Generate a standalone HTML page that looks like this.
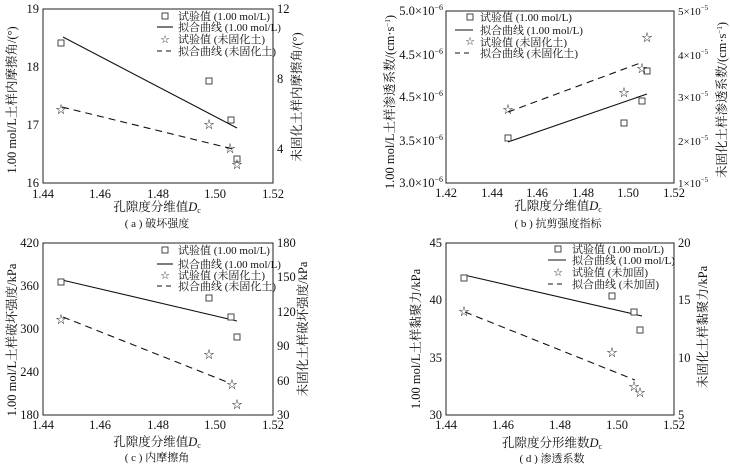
<!DOCTYPE html>
<html><head><meta charset="utf-8"><style>
html,body{margin:0;padding:0;background:#fff;}
svg{display:block;}
text{font-family:"Liberation Serif","Noto Serif CJK SC",serif;fill:#111;}
.t{font-size:12.5px;}
.s{font-size:11px;}
.l{font-size:12.5px;}
.ax{fill:none;stroke:#222;stroke-width:1;}
.sq{fill:#fff;stroke:#333;stroke-width:0.9;}
.ln{stroke:#111;stroke-width:1.1;fill:none;}
.dl{stroke:#111;stroke-width:1.1;fill:none;stroke-dasharray:7,5;}
.st{font-size:11px;font-family:"DejaVu Sans",sans-serif;}
</style></head><body>
<svg width="730" height="464" viewBox="0 0 730 464" xmlns="http://www.w3.org/2000/svg">
<!-- Panel a -->
<rect class="ax" x="43" y="9" width="230" height="174"/>
<g class="t" text-anchor="middle">
<text x="43" y="198">1.44</text><text x="100" y="198">1.46</text><text x="158" y="198">1.48</text><text x="215" y="198">1.50</text><text x="273" y="198">1.52</text>
</g>
<g class="t" text-anchor="end"><text x="39" y="13">19</text><text x="39" y="71">18</text><text x="39" y="129">17</text><text x="39" y="187">16</text></g>
<g class="t"><text x="277" y="13">12</text><text x="277" y="83">8</text><text x="277" y="153">4</text></g>
<line class="ln" x1="63" y1="37" x2="237" y2="128"/>
<line class="dl" x1="62" y1="107" x2="233" y2="149"/>
<rect class="sq" x="58" y="40" width="6" height="6"/><rect class="sq" x="206" y="78" width="6" height="6"/><rect class="sq" x="228" y="117" width="6" height="6"/><rect class="sq" x="234" y="156" width="6" height="6"/>
<g class="st" text-anchor="middle"><text x="61" y="113">☆</text><text x="209" y="128">☆</text><text x="230" y="152">☆</text><text x="237" y="168">☆</text></g>
<rect class="sq" x="162" y="13" width="6" height="6"/><line class="ln" x1="157" y1="27" x2="173" y2="27"/>
<text class="st" x="165" y="43" text-anchor="middle">☆</text><line class="dl" x1="157" y1="51" x2="173" y2="51" style="stroke-dasharray:5,4"/>
<g class="s"><text x="178" y="20">试验值 (1.00 mol/L)</text><text x="178" y="31">拟合曲线 (1.00 mol/L)</text><text x="178" y="43">试验值 (未固化土)</text><text x="178" y="55">拟合曲线 (未固化土)</text></g>
<text class="l" transform="translate(16,100) rotate(-90)" text-anchor="middle">1.00 mol/L土样内摩擦角/(°)</text>
<text class="l" transform="translate(301,97) rotate(-90)" text-anchor="middle">未固化土样内摩擦角/(°)</text>
<text class="l" x="157" y="211" text-anchor="middle">孔隙度分维值<tspan font-style="italic">D</tspan><tspan font-size="8" dy="2">c</tspan></text>
<text class="s" x="157" y="227" text-anchor="middle">( a ) 破坏强度</text>

<!-- Panel b -->
<rect class="ax" x="446" y="11" width="228" height="172"/>
<g class="t" text-anchor="middle">
<text x="446" y="197">1.42</text><text x="492" y="197">1.44</text><text x="537" y="197">1.46</text><text x="583" y="197">1.48</text><text x="628" y="197">1.50</text><text x="674" y="197">1.52</text>
</g>
<g class="t" text-anchor="end"><text x="443" y="15">5.0×10<tspan font-size="8" dy="-5">−6</tspan></text><text x="443" y="59">4.5×10<tspan font-size="8" dy="-5">−6</tspan></text><text x="443" y="101">4.5×10<tspan font-size="8" dy="-5">−6</tspan></text><text x="443" y="145">3.5×10<tspan font-size="8" dy="-5">−6</tspan></text><text x="443" y="187">3.0×10<tspan font-size="8" dy="-5">−6</tspan></text></g>
<g class="s"><text x="678" y="15">5×10<tspan font-size="7" dy="-5">−5</tspan></text><text x="678" y="59">4×10<tspan font-size="7" dy="-5">−5</tspan></text><text x="678" y="101">3×10<tspan font-size="7" dy="-5">−5</tspan></text><text x="678" y="145">2×10<tspan font-size="7" dy="-5">−5</tspan></text><text x="678" y="187">1×10<tspan font-size="7" dy="-5">−5</tspan></text></g>
<line class="ln" x1="508" y1="142" x2="647" y2="94"/>
<line class="dl" x1="508" y1="112" x2="643" y2="62"/>
<rect class="sq" x="505" y="135" width="6" height="6"/><rect class="sq" x="621" y="120" width="6" height="6"/><rect class="sq" x="639" y="98" width="6" height="6"/><rect class="sq" x="644" y="68" width="6" height="6"/>
<g class="st" text-anchor="middle"><text x="508" y="113">☆</text><text x="624" y="96">☆</text><text x="642" y="72">☆</text><text x="647" y="41">☆</text></g>
<rect class="sq" x="467" y="14" width="6" height="6"/><line class="ln" x1="455" y1="30" x2="473" y2="30"/>
<text class="st" x="470" y="45" text-anchor="middle">☆</text><line class="dl" x1="455" y1="53" x2="473" y2="53" style="stroke-dasharray:5,4"/>
<g class="s"><text x="480" y="21">试验值 (1.00 mol/L)</text><text x="480" y="34">拟合曲线 (1.00 mol/L)</text><text x="480" y="46">试验值 (未固化土)</text><text x="480" y="57">拟合曲线 (未固化土)</text></g>
<text class="l" transform="translate(394,102) rotate(-90)" text-anchor="middle">1.00 mol/L土样渗透系数/(cm·s<tspan font-size="7" dy="-4">−1</tspan><tspan dy="4">)</tspan></text>
<text class="l" transform="translate(726,100) rotate(-90)" text-anchor="middle">未固化土样渗透系数/(cm·s<tspan font-size="7" dy="-4">−1</tspan><tspan dy="4">)</tspan></text>
<text class="l" x="558" y="210" text-anchor="middle">孔隙度分维值<tspan font-style="italic">D</tspan><tspan font-size="8" dy="2">c</tspan></text>
<text class="s" x="558" y="227" text-anchor="middle">( b ) 抗剪强度指标</text>

<!-- Panel c -->
<rect class="ax" x="43" y="243" width="230" height="172"/>
<g class="t" text-anchor="middle">
<text x="43" y="429">1.44</text><text x="100" y="429">1.46</text><text x="158" y="429">1.48</text><text x="215" y="429">1.50</text><text x="273" y="429">1.52</text>
</g>
<g class="t" text-anchor="end"><text x="39" y="247">420</text><text x="39" y="290">360</text><text x="39" y="333">300</text><text x="39" y="376">240</text><text x="39" y="419">180</text></g>
<g class="t"><text x="277" y="247">180</text><text x="277" y="281">150</text><text x="277" y="316">120</text><text x="277" y="350">90</text><text x="277" y="385">60</text><text x="277" y="419">30</text></g>
<line class="ln" x1="62" y1="280" x2="237" y2="321"/>
<line class="dl" x1="63" y1="317" x2="227" y2="382"/>
<rect class="sq" x="58" y="279" width="6" height="6"/><rect class="sq" x="206" y="295" width="6" height="6"/><rect class="sq" x="228" y="314" width="6" height="6"/><rect class="sq" x="234" y="334" width="6" height="6"/>
<g class="st" text-anchor="middle"><text x="61" y="323">☆</text><text x="209" y="358">☆</text><text x="232" y="388">☆</text><text x="237" y="408">☆</text></g>
<rect class="sq" x="162" y="247" width="6" height="6"/><line class="ln" x1="157" y1="264" x2="173" y2="264"/>
<text class="st" x="165" y="279" text-anchor="middle">☆</text><line class="dl" x1="157" y1="286" x2="173" y2="286" style="stroke-dasharray:5,4"/>
<g class="s"><text x="178" y="254">试验值 (1.00 mol/L)</text><text x="178" y="268">拟合曲线 (1.00 mol/L)</text><text x="178" y="279">试验值 (未固化土)</text><text x="178" y="290">拟合曲线 (未固化土)</text></g>
<text class="l" transform="translate(16,340) rotate(-90)" text-anchor="middle">1.00 mol/L土样破坏强度/kPa</text>
<text class="l" transform="translate(307,329) rotate(-90)" text-anchor="middle">未固化土样破坏强度/kPa</text>
<text class="l" x="157" y="446" text-anchor="middle">孔隙度分维值<tspan font-style="italic">D</tspan><tspan font-size="8" dy="2">c</tspan></text>
<text class="s" x="157" y="461" text-anchor="middle">( c ) 内摩擦角</text>

<!-- Panel d -->
<rect class="ax" x="446" y="243" width="228" height="172"/>
<g class="t" text-anchor="middle">
<text x="446" y="429">1.44</text><text x="503" y="429">1.46</text><text x="560" y="429">1.48</text><text x="617" y="429">1.50</text><text x="674" y="429">1.52</text>
</g>
<g class="t" text-anchor="end"><text x="442" y="247">45</text><text x="442" y="304">40</text><text x="442" y="362">35</text><text x="442" y="419">30</text></g>
<g class="t"><text x="678" y="247">20</text><text x="678" y="304">15</text><text x="678" y="362">10</text><text x="678" y="419">5</text></g>
<line class="ln" x1="464" y1="275" x2="642" y2="316"/>
<line class="dl" x1="465" y1="312" x2="635" y2="380"/>
<rect class="sq" x="461" y="275" width="6" height="6"/><rect class="sq" x="609" y="293" width="6" height="6"/><rect class="sq" x="631" y="309" width="6" height="6"/><rect class="sq" x="637" y="327" width="6" height="6"/>
<g class="st" text-anchor="middle"><text x="464" y="315">☆</text><text x="612" y="356">☆</text><text x="634" y="390">☆</text><text x="640" y="396">☆</text></g>
<rect class="sq" x="555" y="246" width="6" height="6"/><line class="ln" x1="548" y1="260" x2="566" y2="260"/>
<text class="st" x="558" y="276" text-anchor="middle">☆</text><line class="dl" x1="548" y1="284" x2="566" y2="284" style="stroke-dasharray:5,4"/>
<g class="s"><text x="572" y="253">试验值 (1.00 mol/L)</text><text x="572" y="264">拟合曲线 (1.00 mol/L)</text><text x="572" y="276">试验值 (未加固)</text><text x="572" y="288">拟合曲线 (未加固)</text></g>
<text class="l" transform="translate(420,339) rotate(-90)" text-anchor="middle">1.00 mol/L土样黏聚力/kPa</text>
<text class="l" transform="translate(707,327) rotate(-90)" text-anchor="middle">未固化土样黏聚力/kPa</text>
<text class="l" x="552" y="447" text-anchor="middle">孔隙度分形维数<tspan font-style="italic">D</tspan><tspan font-size="8" dy="2">c</tspan></text>
<text class="s" x="552" y="462" text-anchor="middle">( d ) 渗透系数</text>
</svg>
</body></html>
